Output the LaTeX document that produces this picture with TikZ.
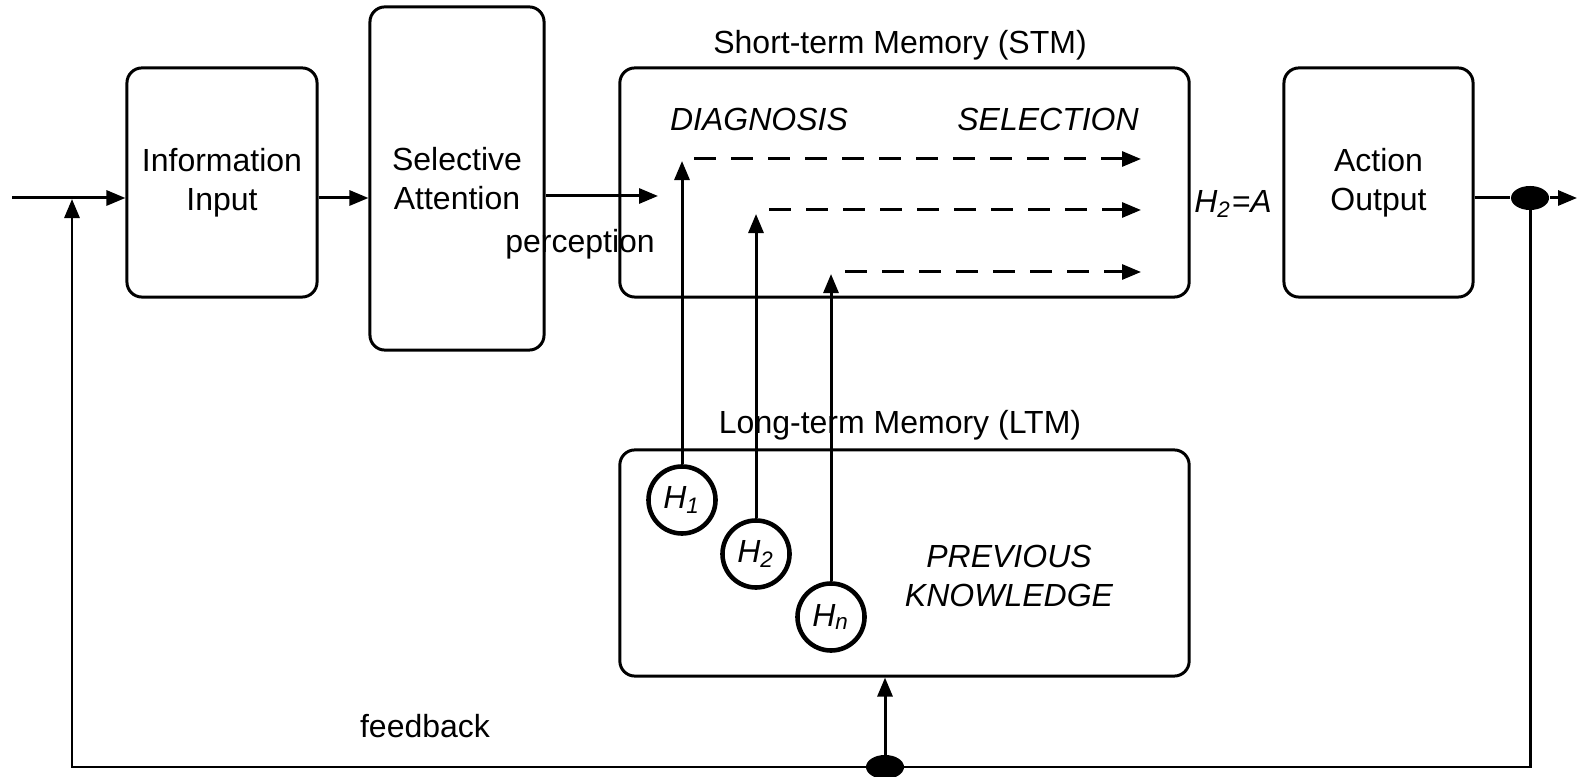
\documentclass[tikz,border=0pt]{standalone}
\usepackage{fontspec}
\setmainfont{Liberation Sans}
\usetikzlibrary{arrows.meta,shapes.geometric}
\begin{document}
\begin{tikzpicture}[x=0.01cm,y=-0.01cm,
  font=\fontsize{9.1}{11}\selectfont,
  box/.style={draw,line width=0.85pt,rounded corners=0.15cm,align=center,inner sep=0pt},
  hyp/.style={draw,circle,line width=1.3pt,minimum size=0.67cm,inner sep=0pt,font=\fontsize{9.1}{10.5}\selectfont\itshape},
  arr/.style={line width=0.85pt,-{Triangle[length=0.19cm,width=0.15cm]}},
  ln/.style={line width=0.85pt},
  dsh/.style={line width=0.85pt,dash pattern=on 0.22cm off 0.15cm,-{Triangle[length=0.19cm,width=0.15cm]}},
  dot/.style={fill,ellipse,minimum width=0.38cm,minimum height=0.24cm,inner sep=0pt},
  it/.style={inner sep=0pt,font=\fontsize{9.1}{11}\selectfont\itshape},
  lbl/.style={inner sep=0pt}]
\useasboundingbox (0,0) rectangle (1577,777);
% boxes
\node[box,minimum width=1.90cm,minimum height=2.29cm] (info) at (222,182.5) {Information\\Input};
\node[box,minimum width=1.74cm,minimum height=3.43cm] (sel) at (457,178.5) {Selective\\Attention};
\node[box,minimum width=5.69cm,minimum height=2.29cm] (stm) at (904.5,182.5) {};
\node[box,minimum width=1.89cm,minimum height=2.29cm] (act) at (1378.5,182.5) {Action\\Output};
\node[box,minimum width=5.69cm,minimum height=2.26cm] (ltm) at (904.5,563) {};
% labels
\node[lbl] (stml) at (900,45) {Short-term Memory (STM)};
\node[lbl] (ltml) at (900,425) {Long-term Memory (LTM)};
\node[it] (diag) at (759,119) {DIAGNOSIS};
\node[it] (selc) at (1048,119) {SELECTION};
\node[it,align=center] (prev) at (1009,576) {PREVIOUS\\KNOWLEDGE};
\node[lbl] (h2a) at (1233,204) {\itshape H\textsubscript{2}=A};
\node[lbl] (perc) at (580,244) {perception};
\node[lbl] (fbl) at (425,726) {feedback};
% hypotheses
\node[hyp] (h1) at (682,500) {H\textsubscript{1}};
\node[hyp] (h2) at (756,554) {H\textsubscript{2}};
\node[hyp] (hn) at (831,617) {H\textsubscript{n}};
% coordinates
\coordinate (in) at (12,198);
\coordinate (pin) at (658,196);
\coordinate (t1) at (682,161);
\coordinate (t2) at (756,214);
\coordinate (t3) at (831,274);
\coordinate (d1) at (694,159);
\coordinate (d2) at (769,210);
\coordinate (d3) at (845,272);
\coordinate (e1) at (1141,159);
\coordinate (e2) at (1141,210);
\coordinate (e3) at (1141,272);
\coordinate (oend) at (1577,198);
\coordinate (fbc) at (72,767);
\coordinate (fbt) at (72,199);
\node[dot] (odot) at (1530,198) {};
\node[dot] (bdot) at (885,767) {};
% connectors
\draw[arr] (in) -- (info.west |- in);
\draw[arr] (info.east |- in) -- (sel.west |- in);
\draw[arr] (sel.east |- pin) -- (pin);
\draw[arr] (h1.north) -- (t1);
\draw[arr] (h2.north) -- (t2);
\draw[arr] (hn.north) -- (t3);
\draw[dsh] (d1) -- (e1);
\draw[dsh] (d2) -- (e2);
\draw[dsh] (d3) -- (e3);
\draw[ln] (act.east |- in) -- (odot.west);
\draw[arr] (odot.east) -- (oend);
\draw[ln] (odot.center) |- (bdot.center);
\draw[arr] (bdot.center) -- (fbc) -- (fbt);
\draw[arr] (bdot.center) -- (bdot.center |- ltm.south);
\end{tikzpicture}
\end{document}
